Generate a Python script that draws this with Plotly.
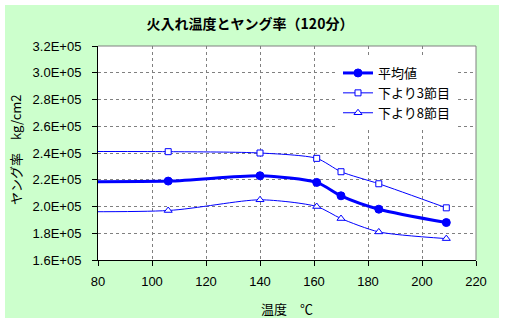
import plotly.graph_objects as go

# Data
temps = [20, 106, 140, 161, 170, 184, 209]
avg_vals = [2.19e5, 2.19e5, 2.23e5, 2.18e5, 2.08e5, 1.98e5, 1.88e5]
sec3_vals = [2.41e5, 2.41e5, 2.40e5, 2.36e5, 2.26e5, 2.17e5, 1.99e5]
sec8_vals = [1.97e5, 1.97e5, 2.05e5, 2.00e5, 1.91e5, 1.81e5, 1.76e5]
series_names = ["平均値", "下より3節目", "下より8節目"]
y_tickvals = [1.6e5, 1.8e5, 2.0e5, 2.2e5, 2.4e5, 2.6e5, 2.8e5, 3.0e5, 3.2e5]
y_ticktext = ["1.6E+05", "1.8E+05", "2.0E+05", "2.2E+05", "2.4E+05",
              "2.6E+05", "2.8E+05", "3.0E+05", "3.2E+05"]
x_tickvals = [80, 100, 120, 140, 160, 180, 200, 220]
title_text = "火入れ温度とヤング率（120分）"
x_title = "温度　℃"
y_title = "ヤング率　kg/cm2"

BLUE = "#0000FF"
FONT = "Liberation Sans, Noto Sans CJK JP, sans-serif"
CJK = "Noto Sans CJK JP, sans-serif"

W, H = 505, 324
ML, MR, MT, MB = 98, 29, 46, 64
PW, PH = W - ML - MR, H - MT - MB

def px_x(x):
    return (x - ML) / PW

def px_y(y):
    return (MT + PH - y) / PH

fig = go.Figure()
fig.add_trace(go.Scatter(
    x=temps, y=avg_vals, name=series_names[0], mode="lines+markers",
    line=dict(color=BLUE, width=3, shape="spline", smoothing=0.7),
    marker=dict(symbol="circle", size=8, color=BLUE, line=dict(color=BLUE, width=1)),
))
fig.add_trace(go.Scatter(
    x=temps, y=sec3_vals, name=series_names[1], mode="lines+markers",
    line=dict(color=BLUE, width=1, shape="spline", smoothing=0.7),
    marker=dict(symbol="square", size=6, color="white", line=dict(color=BLUE, width=1)),
))
fig.add_trace(go.Scatter(
    x=temps, y=sec8_vals, name=series_names[2], mode="lines+markers",
    line=dict(color=BLUE, width=1, shape="spline", smoothing=0.7),
    marker=dict(symbol="triangle-up", size=7, color="white", line=dict(color=BLUE, width=1)),
))

fig.update_layout(
    width=W, height=H, autosize=False,
    margin=dict(l=ML, r=MR, t=MT, b=MB, pad=0),
    paper_bgcolor="white", plot_bgcolor="white",
    font=dict(family=FONT, size=13, color="black"),
    title=dict(text=title_text, x=250 / W, xanchor="center", y=1 - 24 / H, yanchor="middle",
               font=dict(family=CJK, size=14, color="black", weight="bold")),
    showlegend=True,
    legend=dict(x=px_x(338), y=px_y(58), xanchor="left", yanchor="top",
                bgcolor="white", borderwidth=0, font=dict(family=CJK, size=13),
                itemwidth=30, tracegroupgap=0),
    xaxis=dict(range=[80, 220], tickvals=x_tickvals, showgrid=True,
               gridcolor="#808080", griddash="3px,3px", gridwidth=1,
               showline=True, linecolor="black", linewidth=1,
               ticks="outside", ticklen=5, tickcolor="black",
               ticklabelstandoff=4, zeroline=False,
               tickfont=dict(family=FONT, size=13, color="black")),
    yaxis=dict(range=[1.6e5, 3.2e5], tickvals=y_tickvals, ticktext=y_ticktext,
               showgrid=True, gridcolor="#808080", griddash="3px,3px", gridwidth=1,
               showline=True, linecolor="black", linewidth=1,
               ticks="outside", ticklen=5, tickcolor="black",
               ticklabelstandoff=8, zeroline=False,
               tickfont=dict(family=FONT, size=13, color="black")),
    shapes=[
        dict(type="rect", xref="paper", yref="paper", layer="below",
             x0=px_x(5), x1=px_x(499), y0=px_y(318), y1=px_y(5),
             fillcolor="#CCFFCC", line=dict(width=0)),
        dict(type="rect", xref="paper", yref="paper", layer="below",
             x0=0, x1=1, y0=0, y1=1, fillcolor="white", line=dict(width=0)),
        dict(type="line", xref="paper", yref="paper", x0=0, x1=1, y0=1, y1=1,
             line=dict(color="#808080", width=1)),
        dict(type="line", xref="paper", yref="paper", x0=1, x1=1, y0=0, y1=1,
             line=dict(color="#808080", width=1)),
    ],
    annotations=[
        dict(text=x_title, xref="paper", yref="paper", x=px_x(287), y=px_y(308),
             xanchor="center", yanchor="middle", showarrow=False,
             font=dict(family=CJK, size=13)),
        dict(text=y_title, xref="paper", yref="paper", x=px_x(15), y=px_y(150),
             xanchor="center", yanchor="middle", showarrow=False, textangle=-90,
             font=dict(family=CJK, size=13)),
    ],
)

fig.write_html("out.html")
